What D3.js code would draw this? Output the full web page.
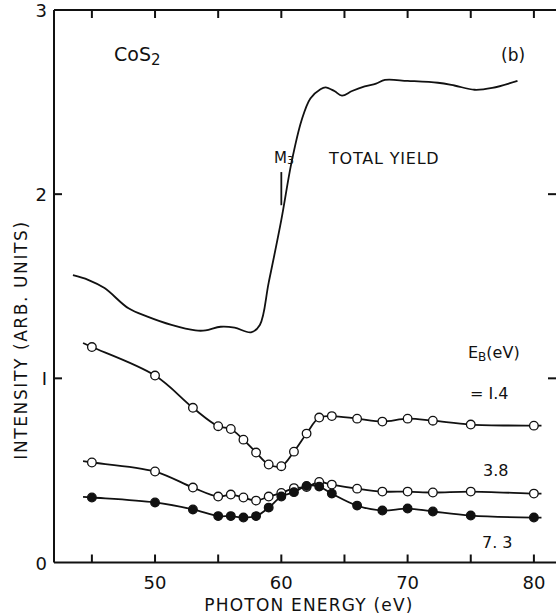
<!DOCTYPE html>
<html>
<head>
<meta charset="utf-8">
<script src="https://cdn.jsdelivr.net/npm/d3@7"></script>
<style>
  body { margin: 0; background: #fff; }
  text { font-family: "DejaVu Sans", "Liberation Sans", sans-serif; fill: #111; }
</style>
</head>
<body>
<div id="chart"></div>
<script>
// photon energies (eV) of the measured points
const energies = [45, 50, 53, 55, 56, 57, 58, 59, 60, 61, 62, 63, 64, 66, 68, 70, 72, 75, 80];
// binding energy curves
const eb14 = [1.17, 1.015, 0.84, 0.74, 0.725, 0.667, 0.597, 0.532, 0.523, 0.602, 0.70, 0.787, 0.795, 0.781, 0.765, 0.781, 0.770, 0.749, 0.743];
const eb38 = [0.543, 0.494, 0.407, 0.358, 0.369, 0.353, 0.336, 0.358, 0.378, 0.404, 0.41, 0.437, 0.423, 0.401, 0.385, 0.385, 0.38, 0.385, 0.374];
const eb73 = [0.353, 0.326, 0.288, 0.252, 0.252, 0.244, 0.252, 0.298, 0.358, 0.382, 0.416, 0.412, 0.374, 0.309, 0.282, 0.293, 0.277, 0.255, 0.244];

// total yield trace
const tyE = [43.5, 44.7, 46.0, 47.9, 49.4, 51.3, 53.2, 54.0, 55.2, 56.3, 57.6, 58.3, 59.0, 60.0, 60.8, 61.6, 62.3, 63.1, 63.5, 64.2, 64.8, 65.6, 66.6, 67.5, 68.2, 70.0, 72.4, 73.7, 75.3, 76.7, 78.7];
const tyV = [1.56, 1.535, 1.49, 1.38, 1.335, 1.29, 1.26, 1.26, 1.28, 1.275, 1.25, 1.29, 1.52, 1.86, 2.17, 2.40, 2.52, 2.57, 2.58, 2.56, 2.535, 2.56, 2.585, 2.60, 2.62, 2.615, 2.605, 2.59, 2.567, 2.577, 2.615];

const xTicks = [45, 50, 55, 60, 65, 70, 75, 80];
const xLabels = [50, 60, 70, 80];
const yTicks = [0, 1, 2, 3];

const width = 556, height = 615;
const margin = {top: 10, right: 0, bottom: 52, left: 54};

const svg = d3.select("#chart").append("svg")
    .attr("width", width)
    .attr("height", height);

const x = d3.scaleLinear().domain([42, 81.75]).range([margin.left, width - margin.right]);
const y = d3.scaleLinear().domain([0, 3]).range([height - margin.bottom - 0.5, margin.top]);

// frame
const frame = svg.append("g").attr("stroke", "#111").attr("stroke-width", 2).attr("fill", "none");
frame.append("line").attr("x1", x(42)).attr("x2", x(42)).attr("y1", y(0)).attr("y2", y(3));
frame.append("line").attr("x1", x(42)).attr("x2", width).attr("y1", y(0)).attr("y2", y(0));
frame.append("line").attr("x1", x(42)).attr("x2", width).attr("y1", y(3)).attr("y2", y(3));

// inward ticks
const tl = 8;
frame.selectAll(".tb").data(xTicks).join("line")
    .attr("x1", d => x(d)).attr("x2", d => x(d))
    .attr("y1", y(0)).attr("y2", y(0) - tl);
frame.selectAll(".tt").data(xTicks).join("line")
    .attr("x1", d => x(d)).attr("x2", d => x(d))
    .attr("y1", y(3)).attr("y2", y(3) + tl);
frame.selectAll(".tlft").data([1, 2]).join("line")
    .attr("x1", x(42)).attr("x2", x(42) + tl)
    .attr("y1", d => y(d)).attr("y2", d => y(d));
frame.selectAll(".trgt").data([1, 2]).join("line")
    .attr("x1", width).attr("x2", width - tl)
    .attr("y1", d => y(d)).attr("y2", d => y(d));

// tick labels
svg.selectAll(".xl").data(xLabels).join("text")
    .attr("x", d => x(d)).attr("y", 589)
    .attr("text-anchor", "middle").attr("font-size", 18)
    .text(d => d);
svg.selectAll(".yl").data(yTicks).join("text")
    .attr("x", 47).attr("y", d => y(d) + 7)
    .attr("text-anchor", "end").attr("font-size", 18)
    .text(d => d === 1 ? "I" : d);

// axis titles
svg.append("text")
    .attr("x", 309).attr("y", 611)
    .attr("text-anchor", "middle").attr("font-size", 17).attr("letter-spacing", 1.2)
    .text("PHOTON ENERGY (eV)");
svg.append("text")
    .attr("transform", `translate(27,340) rotate(-90)`)
    .attr("text-anchor", "middle").attr("font-size", 17).attr("letter-spacing", 1.6)
    .text("INTENSITY (ARB. UNITS)");

// total yield curve
const line = d3.line().x(d => x(d[0])).y(d => y(d[1])).curve(d3.curveCatmullRom.alpha(0.5));
svg.append("path")
    .datum(tyE.map((e, i) => [e, tyV[i]]))
    .attr("fill", "none").attr("stroke", "#111").attr("stroke-width", 1.8)
    .attr("d", line);

// M3 edge marker
svg.append("line")
    .attr("x1", x(60)).attr("x2", x(60))
    .attr("y1", y(2.12)).attr("y2", y(1.94))
    .attr("stroke", "#111").attr("stroke-width", 1.8);
const m3 = svg.append("text").attr("x", 274).attr("y", 163).attr("font-size", 15);
m3.append("tspan").text("M");
m3.append("tspan").attr("font-size", 11).attr("dy", 1).text("3");

svg.append("text").attr("x", 329).attr("y", 164).attr("font-size", 16).attr("letter-spacing", 0.8).text("TOTAL YIELD");
const cos = svg.append("text").attr("x", 114).attr("y", 61).attr("font-size", 19);
cos.append("tspan").text("CoS");
cos.append("tspan").attr("font-size", 15).attr("dy", 4).text("2");
svg.append("text").attr("x", 501).attr("y", 61).attr("font-size", 17).text("(b)");

// binding energy series
const series = [
  {vals: eb14, filled: false},
  {vals: eb38, filled: false},
  {vals: eb73, filled: true}
];
series.forEach(s => {
  const pts = energies.map((e, i) => [e, s.vals[i]]);
  const n = pts.length;
  // short lead-in and lead-out stubs
  const ext = [[44.3, pts[0][1] + (pts[0][1] - pts[1][1]) * 0.7 / 5]].concat(pts, [[80.6, pts[n - 1][1]]]);
  svg.append("path").datum(ext)
      .attr("fill", "none").attr("stroke", "#111").attr("stroke-width", 1.8)
      .attr("d", line);
  svg.append("g").selectAll("circle").data(pts).join("circle")
      .attr("cx", d => x(d[0])).attr("cy", d => y(d[1]))
      .attr("r", 4.3)
      .attr("fill", s.filled ? "#111" : "#fff")
      .attr("stroke", "#111").attr("stroke-width", 1.3);
});

// series labels
const eb = svg.append("text").attr("x", 468).attr("y", 358).attr("font-size", 16);
eb.append("tspan").text("E");
eb.append("tspan").attr("font-size", 12).attr("dy", 3).text("B");
eb.append("tspan").attr("dy", -3).text("(eV)");
svg.append("text").attr("x", 470).attr("y", 399).attr("font-size", 16).text("= I.4");
svg.append("text").attr("x", 483).attr("y", 476).attr("font-size", 16).text("3.8");
svg.append("text").attr("x", 482).attr("y", 548).attr("font-size", 16).text("7. 3");
</script>
</body>
</html>
